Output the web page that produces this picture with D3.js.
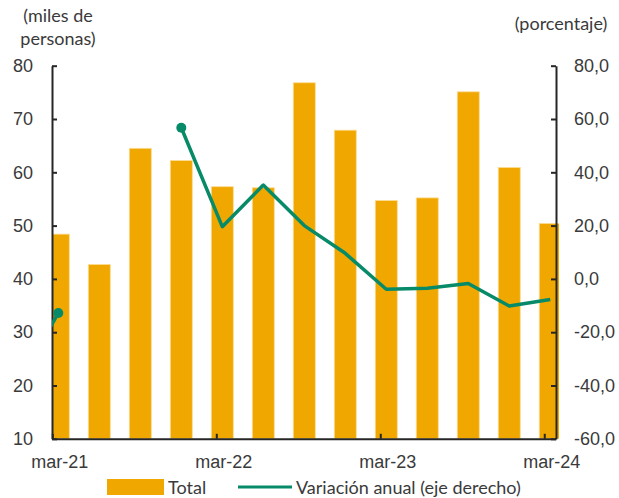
<!DOCTYPE html>
<html>
<head>
<meta charset="utf-8">
<script src="https://cdn.jsdelivr.net/npm/d3@7"></script>
<style>
    body { margin: 0; background: #fff; }
    svg { display: block; font-family: Lato, 'Open Sans', sans-serif; }
    .axis text { font-size: 18px; fill: #3a3a3a; }
    .axis path, .axis line { stroke: #262626; stroke-width: 2px; }
    .label { font-size: 18px; fill: #3a3a3a; }
</style>
</head>
<body>
<svg id="chart"></svg>
<script>
// Quarters, starting one quarter before the visible range (its line point is clipped).
const quarters = ['dic-20', 'mar-21', 'jun-21', 'sep-21', 'dic-21', 'mar-22', 'jun-22', 'sep-22', 'dic-22',
    'mar-23', 'jun-23', 'sep-23', 'dic-23', 'mar-24'];
// Total (miles de personas), left axis.
const totals = [null, 48.4, 42.7, 64.5, 62.2, 57.3, 57.1, 76.8, 67.9, 54.7, 55.2, 75.1, 60.9, 50.4];
// Variación anual (porcentaje), right axis.
const variation = [-40, -12.8, null, null, 56.7, 19.6, 35.2, 20.0, 9.6, -3.9, -3.5, -1.7, -10.2, -7.7];
const leftTicks = [10, 20, 30, 40, 50, 60, 70, 80];
const rightTicks = [-60, -40, -20, 0, 20, 40, 60, 80];
const xTickLabels = ['mar-21', 'mar-22', 'mar-23', 'mar-24'];

const width = 619, height = 498;
const plot = { left: 52, right: 556, top: 65.7, bottom: 438.8 };
const ORANGE = '#f0a800';
const GREEN = '#078a68';

const svg = d3.select('#chart').attr('width', width).attr('height', height);

// X scale on quarter index, mar-21 = 1.
const x = d3.scaleLinear().domain([0.846, 13.14]).range([plot.left, plot.right]);
const barWidth = 22;

const yLeft = d3.scaleLinear().domain([10, 80]).range([plot.bottom, plot.top]);
const yRight = d3.scaleLinear().domain([-60, 80]).range([plot.bottom, plot.top]);

const defs = svg.append('defs');
defs.append('clipPath').attr('id', 'clipBars')
    .append('rect').attr('x', plot.left).attr('y', 0).attr('width', 507).attr('height', height);
defs.append('clipPath').attr('id', 'clipLine')
    .append('rect').attr('x', plot.left).attr('y', 0).attr('width', plot.right - plot.left).attr('height', height);

// Bars.
svg.append('g')
    .attr('clip-path', 'url(#clipBars)')
    .selectAll('rect')
    .data(quarters.map((q, i) => ({ i, v: totals[i] })).filter(d => d.v != null))
    .enter()
    .append('rect')
    .attr('x', d => x(d.i) - barWidth / 2)
    .attr('y', d => yLeft(d.v))
    .attr('width', barWidth)
    .attr('height', d => yLeft(10) - yLeft(d.v))
    .attr('fill', ORANGE)
    .attr('stroke', '#fbdc94')
    .attr('stroke-width', 0.8);

// Left axis.
svg.append('g')
    .attr('class', 'axis')
    .attr('transform', `translate(${plot.left}, 0)`)
    .call(d3.axisLeft(yLeft).tickValues(leftTicks).tickSize(-5).tickSizeOuter(0).tickPadding(19).tickFormat(d3.format('d')));

// Right axis.
svg.append('g')
    .attr('class', 'axis')
    .attr('transform', `translate(${plot.right}, 0)`)
    .call(d3.axisRight(yRight).tickValues(rightTicks).tickSize(-5).tickSizeOuter(0).tickPadding(18)
        .tickFormat(d => d.toFixed(1).replace('.', ',')));

// Bottom axis: ticks sit a little left of each bar, labels centred on the bar.
const xAxis = svg.append('g')
    .attr('class', 'axis')
    .attr('transform', `translate(0, ${plot.bottom})`)
    .call(d3.axisBottom(x).tickValues([1, 5, 9, 13]).tickSize(-5).tickSizeOuter(0).tickPadding(16)
        .tickFormat((d, i) => xTickLabels[i]));
xAxis.selectAll('.tick line').attr('transform', 'translate(-6, 0)');
xAxis.selectAll('.tick text').attr('dx', 1);

// Line.
const lineData = variation.map((v, i) => ({ i, v }));
const line = d3.line()
    .defined(d => d.v != null)
    .x(d => x(d.i))
    .y(d => yRight(d.v));

svg.append('g')
    .attr('clip-path', 'url(#clipLine)')
    .append('path')
    .datum(lineData)
    .attr('fill', 'none')
    .attr('stroke', GREEN)
    .attr('stroke-width', 3.5)
    .attr('stroke-linejoin', 'round')
    .attr('d', line);

// Markers at the ends next to the gap.
svg.append('g')
    .selectAll('circle')
    .data(lineData.filter((d, i) => d.v != null && (variation[i - 1] === null || variation[i + 1] === null)))
    .enter()
    .append('circle')
    .attr('cx', d => x(d.i))
    .attr('cy', d => yRight(d.v))
    .attr('r', 5)
    .attr('fill', GREEN);

// Axis titles.
svg.append('text').attr('class', 'label').attr('x', 58).attr('y', 22).attr('text-anchor', 'middle').text('(miles de');
svg.append('text').attr('class', 'label').attr('x', 58).attr('y', 45).attr('text-anchor', 'middle').text('personas)');
svg.append('text').attr('class', 'label').attr('x', 561).attr('y', 30).attr('text-anchor', 'middle').text('(porcentaje)');

// Legend.
const legend = svg.append('g');
legend.append('rect').attr('x', 107).attr('y', 479).attr('width', 57).attr('height', 16).attr('fill', ORANGE);
legend.append('text').attr('class', 'label').attr('x', 168).attr('y', 494).text('Total');
legend.append('line').attr('x1', 238).attr('x2', 292).attr('y1', 487).attr('y2', 487)
    .attr('stroke', GREEN).attr('stroke-width', 3);
legend.append('text').attr('class', 'label').attr('x', 296).attr('y', 494).text('Variación anual (eje derecho)');
</script>
</body>
</html>
